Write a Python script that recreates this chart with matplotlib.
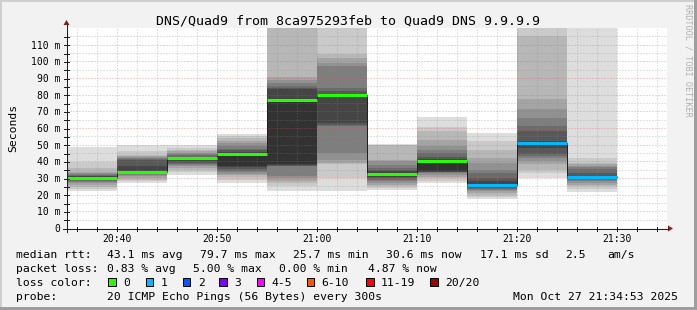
import matplotlib
matplotlib.use("Agg")
import matplotlib.pyplot as plt
from matplotlib.patches import Rectangle, Polygon
from matplotlib.lines import Line2D

# ---------------- data ----------------
title = "DNS/Quad9 from 8ca975293feb to Quad9 DNS 9.9.9.9"
bar_starts = ["20:35", "20:40", "20:45", "20:50", "20:55", "21:00",
              "21:05", "21:10", "21:15", "21:20", "21:25"]
median_ms = [30.0, 33.8, 41.8, 44.4, 76.6, 79.7, 32.6, 40.4, 25.7, 51.2, 30.6]
loss_count = [0, 0, 0, 0, 0, 0, 0, 0, 1, 1, 1]

# 20 sorted ping times (ms) per 5-minute step
pings_2035 = [22.4, 23.5, 24.8, 26.0, 27.0, 27.8, 28.5, 29.0, 29.3, 29.6,
              30.0, 31.0, 31.5, 31.8, 32.5, 33.2, 33.8, 36.0, 39.8, 48.8]
pings_2040 = [26.8, 28.0, 28.8, 30.0, 31.0, 31.8, 32.5, 33.0, 33.4, 33.6,
              33.8, 37.0, 40.8, 41.5, 42.0, 42.5, 43.2, 43.8, 46.0, 49.8]
pings_2045 = [31.8, 33.5, 34.8, 36.0, 37.0, 37.8, 38.5, 39.3, 40.5, 41.5,
              41.8, 42.3, 42.8, 43.5, 44.2, 44.8, 46.0, 47.0, 47.8, 49.8]
pings_2050 = [27.2, 29.0, 30.5, 31.8, 32.5, 33.5, 34.5, 35.5, 36.5, 37.0,
              44.4, 45.5, 46.5, 47.5, 49.0, 51.0, 52.5, 53.8, 55.0, 56.4]
pings_2055 = [22.2, 25.0, 27.2, 28.5, 30.0, 31.2, 37.0, 37.5, 38.0, 38.2,
              76.6, 83.2, 84.0, 85.0, 87.0, 89.0, 90.5, 125.0, 128.0, 130.0]
pings_2100 = [22.2, 30.2, 38.2, 39.0, 41.0, 45.0, 61.0, 62.0, 63.0, 79.0,
              79.7, 80.5, 82.0, 84.0, 97.0, 99.0, 102.0, 104.2, 125.0, 130.0]
pings_2105 = [22.8, 24.0, 25.0, 25.8, 27.0, 28.0, 29.0, 29.8, 30.5, 31.8,
              32.6, 34.0, 35.0, 35.8, 38.0, 40.0, 40.8, 49.8, 50.0, 50.2]
pings_2110 = [26.8, 28.5, 30.0, 30.8, 32.0, 33.0, 33.5, 33.8, 33.9, 34.0,
              40.4, 41.5, 42.5, 44.8, 47.0, 49.0, 52.8, 58.0, 60.8, 66.4]
pings_2115 = [17.2, 18.5, 19.8, 21.0, 22.0, 22.8, 23.5, 24.2, 24.8, 25.3,
              25.7, 28.0, 30.0, 32.8, 35.0, 38.8, 42.0, 46.8, 52.0, 57.2]
pings_2120 = [30.2, 33.2, 35.0, 38.2, 40.0, 42.0, 43.5, 44.2, 48.0, 50.5,
              51.2, 52.2, 58.0, 61.2, 66.2, 71.2, 77.2, 115.2, 125.0, 130.0]
pings_2125 = [21.6, 23.5, 25.0, 26.0, 27.2, 28.0, 28.8, 29.3, 29.8, 30.2,
              30.6, 31.2, 33.0, 35.2, 36.5, 37.5, 38.5, 39.2, 42.2, 130.0]

x_tick_labels = ["20:40", "20:50", "21:00", "21:10", "21:20", "21:30"]
y_tick_values = [0, 10, 20, 30, 40, 50, 60, 70, 80, 90, 100, 110]
y_tick_labels = ["0", "10 m", "20 m", "30 m", "40 m", "50 m", "60 m",
                 "70 m", "80 m", "90 m", "100 m", "110 m"]
y_max = 120
window_start, window_end = "20:35", "21:35"

loss_labels = ["0", "1", "2", "3", "4-5", "6-10", "11-19", "20/20"]
loss_colors = ["#26ff00", "#00b8ff", "#0059ff", "#7e00ff",
               "#ff00ff", "#ff5500", "#ff0000", "#a10000"]

row_rtt = ["median rtt:", "43.1 ms avg", "79.7 ms max", "25.7 ms min",
           "30.6 ms now", "17.1 ms sd", "2.5", "am/s"]
row_loss = ["packet loss:", "0.83 % avg", "5.00 % max", "0.00 % min", "4.87 % now"]
row_probe = ["probe:", "20 ICMP Echo Pings (56 Bytes) every 300s",
             "Mon Oct 27 21:34:53 2025"]
y_label = "Seconds"
watermark = "RRDTOOL / TOBI OETIKER"

all_pings = [pings_2035, pings_2040, pings_2045, pings_2050, pings_2055,
             pings_2100, pings_2105, pings_2110, pings_2115, pings_2120,
             pings_2125]

# ---------------- helpers ----------------
def to_min(s):
    h, m = map(int, s.split(":"))
    return h * 60 + m

t0 = to_min(window_start)
t1 = to_min(window_end)

def rel(s):
    return to_min(s) - t0

def loss_index(n):
    if n <= 3:
        return n
    if n <= 5:
        return 4
    if n <= 10:
        return 5
    if n <= 19:
        return 6
    return 7

# ---------------- figure ----------------
W, H, DPI = 697, 310, 100
MONO = "DejaVu Sans Mono"
PX = 72.0 / DPI  # points per pixel

fig = plt.figure(figsize=(W / DPI, H / DPI), dpi=DPI, facecolor="#f2f2f2")

# plot area in pixels
L, R, T, B = 67, 667, 28, 228
ax = fig.add_axes([L / W, 1 - B / H, (R - L) / W, (B - T) / H])
ax.set_facecolor("white")
ax.set_xlim(0, t1 - t0)
ax.set_ylim(0, y_max)
for s in ax.spines.values():
    s.set_visible(False)

step = 5
shades = ["#%02x%02x%02x" % ((int(190 / 10 * (10 - k)) + 50,) * 3) for k in range(1, 11)]

# smoke
for start, pv in zip(bar_starts, all_pings):
    x = rel(start)
    p = sorted(pv)
    n = len(p)
    for k in range(n // 2):
        lo, hi = p[k], p[n - 1 - k]
        ax.bar(x, hi - lo, bottom=lo, width=step, align="edge",
               color=shades[k], linewidth=0, zorder=2)

# grid (on top of smoke)
minor_x = [m for m in range(0, t1 - t0 + 1) if (t0 + m) % 2 == 0 and (t0 + m) % 10 != 0]
major_x = [rel(s) for s in x_tick_labels]
minor_y = [v for v in range(5, y_max, 10)]
major_y = [v for v in y_tick_values if v > 0]
gkw = dict(lw=PX, linestyle=(0, (1, 2)), zorder=3)
for m in minor_x:
    ax.axvline(m, color="#888888", alpha=0.46, **gkw)
for v in minor_y:
    ax.axhline(v, color="#888888", alpha=0.46, **gkw)
for m in major_x:
    ax.axvline(m, color=(0.87, 0.31, 0.31), alpha=0.5, **gkw)
for v in major_y:
    ax.axhline(v, color=(0.87, 0.31, 0.31), alpha=0.5, **gkw)

# median step line (dark) + loss coloured segments
xs = [rel(s) for s in bar_starts] + [rel(bar_starts[-1]) + step]
ax.step(xs, median_ms + [median_ms[-1]], where="post", color="#202020",
        lw=PX, zorder=4)
for start, med, lc in zip(bar_starts, median_ms, loss_count):
    x = rel(start)
    ax.hlines(med, x, x + step, colors=loss_colors[loss_index(lc)],
              lw=3 * PX, zorder=5)

# ticks / labels
ax.set_xticks(major_x, x_tick_labels)
ax.set_yticks(y_tick_values, y_tick_labels)
ax.tick_params(axis="both", length=0, labelsize=7.0)
ax.tick_params(axis="x", pad=4.0)
ax.tick_params(axis="y", pad=4.6)
for lab in ax.get_xticklabels() + ax.get_yticklabels():
    lab.set_fontfamily(MONO)

# ---------------- overlay in pixel coordinates ----------------
ov = fig.add_axes([0, 0, 1, 1], zorder=10)
ov.set_xlim(0, W)
ov.set_ylim(H, 0)
ov.axis("off")
ov.patch.set_alpha(0)

# frame
ov.add_patch(Rectangle((0, 0), W, 2, color="#cfcfcf", lw=0))
ov.add_patch(Rectangle((0, 0), 2, H, color="#cfcfcf", lw=0))
ov.add_patch(Rectangle((0, H - 3), W, 3, color="#9e9e9e", lw=0))
ov.add_patch(Rectangle((W - 3, 0), 3, H, color="#9e9e9e", lw=0))

# axes lines and arrows
axis_col = "#1f1f1f"
arrow_col = (0.5, 0.12, 0.12)
ov.add_line(Line2D([63, 668], [B + 0.5, B + 0.5], color=axis_col, lw=PX))
ov.add_line(Line2D([L - 0.5, L - 0.5], [B + 4, T - 3], color=axis_col, lw=PX))
ov.add_patch(Polygon([[668, B - 2.5], [668, B + 3.5], [673, B + 0.5]],
                     closed=True, color=arrow_col, lw=0))
ov.add_patch(Polygon([[L - 3.5, T - 3], [L + 2.5, T - 3], [L - 0.5, T - 8]],
                     closed=True, color=arrow_col, lw=0))
# small tick marks on axes
px_per_min = (R - L) / (t1 - t0)
px_per_ms = (B - T) / y_max
for m in minor_x + major_x:
    xx = L + m * px_per_min - 0.5
    ov.add_line(Line2D([xx, xx], [B - 1.5, B + 2.5], color=axis_col, lw=PX))
for v in minor_y + major_y:
    yy = B - v * px_per_ms + 0.5
    ov.add_line(Line2D([L - 3, L + 1.5], [yy, yy], color=axis_col, lw=PX))

# title and labels
ov.text(W / 2, 24, title, ha="center", va="baseline", fontsize=9.5,
        family=MONO, color="black")
ov.text(13.5, (T + B) / 2, y_label, ha="center", va="center", rotation=90,
        fontsize=8.2, family=MONO, color="black")
ov.text(688, 60, watermark, ha="center", va="center", rotation=270,
        fontsize=6.1, family=MONO, color="#b0b0b0")

# legend rows
LEG = 8.2
rtt_x = [16, 107.3, 200, 292.7, 386.3, 479.7, 565.3, 607]
for txt, xx in zip(row_rtt, rtt_x):
    ov.text(xx, 258, txt, ha="left", va="baseline", fontsize=LEG, family=MONO)
loss_x = [16, 107.3, 193.3, 279.3, 367.7]
for txt, xx in zip(row_loss, loss_x):
    ov.text(xx, 272, txt, ha="left", va="baseline", fontsize=LEG, family=MONO)
ov.text(16, 285.8, "loss color:", ha="left", va="baseline", fontsize=LEG, family=MONO)
box_x = [108.3, 145.7, 182.7, 219.3, 256.7, 306.7, 366.0, 430.3]
for lab, col, bx in zip(loss_labels, loss_colors, box_x):
    ov.add_patch(Rectangle((bx, 277.8), 7.5, 7.8, facecolor=col,
                           edgecolor="black", lw=PX))
    ov.text(bx + 15, 285.8, lab, ha="left", va="baseline", fontsize=LEG, family=MONO)
probe_x = [16, 107.3, 512.7]
for txt, xx in zip(row_probe, probe_x):
    ov.text(xx, 299.7, txt, ha="left", va="baseline", fontsize=LEG, family=MONO)

fig.savefig("out.png", dpi=DPI, facecolor=fig.get_facecolor())
